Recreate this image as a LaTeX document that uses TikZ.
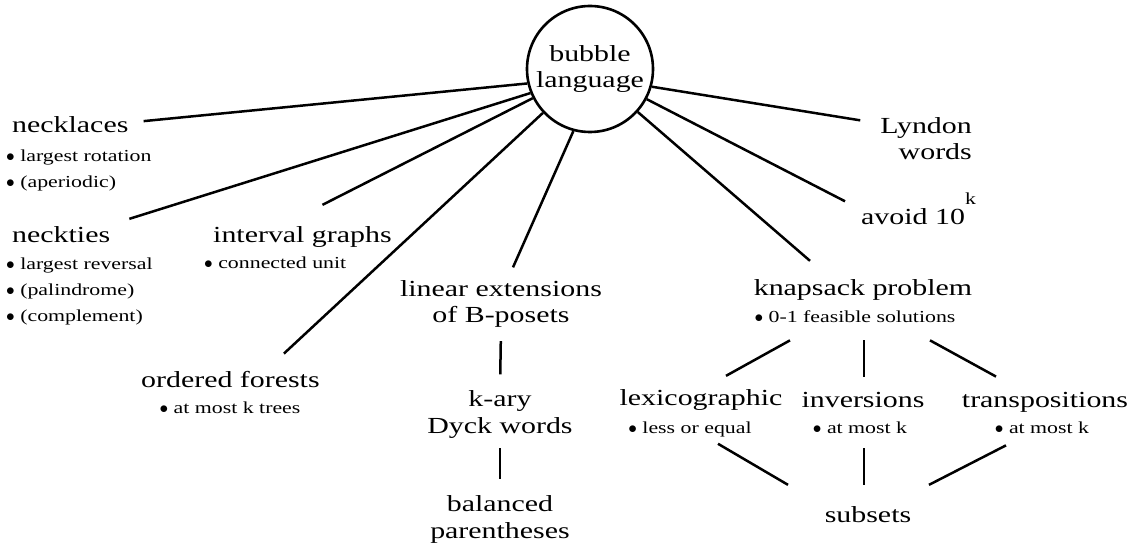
\documentclass[tikz,border=0pt]{standalone}
\usepackage{fontspec}
\setmainfont{Liberation Serif}[FakeStretch=1.3]
\newcommand{\bigtext}{\fontsize{23pt}{26.5pt}\selectfont}
\newcommand{\smalltext}{\fontsize{16.8pt}{26.5pt}\selectfont}
\newcommand{\bul}{$\bullet$\ }
\begin{document}
\begin{tikzpicture}[x=1pt,y=-1pt,
  every node/.style={inner sep=0pt,font=\bigtext},
  info/.style={font=\smalltext},
  link/.style={line width=2.5pt}]
\useasboundingbox (0,0) rectangle (1136,548);
\node[circle,draw,line width=2.6pt,minimum size=126pt,align=center] (bubble) at (590,69) {bubble\\language};

% left side (base = last line)
\node[anchor=base west] (neckl) at (12,133) {necklaces};
\node[info,align=left,anchor=base west] (necklInfo) at (6,188) {\bul largest rotation\\\bul (aperiodic)};
\node[anchor=base west] (neckt) at (12,243) {neckties};
\node[info,align=left,anchor=base west] (necktInfo) at (6,322) {\bul largest reversal\\\bul (palindrome)\\\bul (complement)};
\node[anchor=base west] (interval) at (213,243) {interval graphs};
\node[info,anchor=base west] (intervalInfo) at (204,269) {\bul connected unit};
\node[anchor=base west] (forests) at (141,387) {ordered forests};
\node[info,anchor=base] (forestsInfo) at (230,413) {\bul at most k trees};

% middle chain
\node[align=center,anchor=base] (linext) at (501,323) {linear extensions\\of B-posets};
\node[align=center,anchor=base] (kary) at (500,433) {k-ary\\Dyck words};
\node[align=center,anchor=base] (balanced) at (500,538) {balanced\\parentheses};

% right side
\node[align=right,anchor=base east] (lyndon) at (972,160) {Lyndon\\words};
\node[anchor=base west] (avoid) at (861,225) {avoid 10\raisebox{20pt}{\smalltext k}};
\node[anchor=base] (knap) at (863,296) {knapsack problem};
\node[info,anchor=base] (knapInfo) at (855,323) {\bul 0-1 feasible solutions};
\node[anchor=base] (lex) at (701,405) {lexicographic};
\node[info,anchor=base] (lexInfo) at (690,433) {\bul less or equal};
\node[anchor=base] (inv) at (863,407) {inversions};
\node[info,anchor=base] (invInfo) at (860,433) {\bul at most k};
\node[anchor=base] (trans) at (1045,407) {transpositions};
\node[info,anchor=base] (transInfo) at (1042,433) {\bul at most k};
\node[anchor=base] (subsets) at (868,522) {subsets};

% spokes of the bubble
\draw[link] (bubble.193) -- ([shift={(15,-4)}]neckl.east);
\draw[link] (bubble.202) -- ([shift={(19,-8)}]neckt.north east);
\draw[link] (bubble.207) -- ([shift={(20,-22)}]interval.north);
\draw[link] (bubble.223) -- ([shift={(-36,-17)}]forests.north east);
\draw[link] (bubble.255) -- ([shift={(12,-13)}]linext.north);
\draw[link] (bubble.344) -- ([shift={(-20,3)}]lyndon.north west);
\draw[link] (bubble.332) -- ([shift={(-16,-8)}]avoid.west);
\draw[link] (bubble.318) -- ([shift={(-53,-19)}]knap.north);

% lower links
\draw[link,shorten <=13pt,shorten >=16pt] (linext.south) -- (kary.north);
\draw[link,shorten <=10pt,shorten >=16pt] (kary.south) -- (balanced.north);
\draw[link] ([shift={(-65,17)}]knapInfo.south) -- ([shift={(25,-13)}]lex.north);
\draw[link] ([shift={(9,17)}]knapInfo.south) -- ([shift={(1,-15)}]inv.north);
\draw[link] ([shift={(75,17)}]knapInfo.south) -- ([shift={(-49,-15)}]trans.north);
\draw[link] ([shift={(28,7)}]lexInfo.south) -- ([shift={(-80,-21)}]subsets.north);
\draw[link] ([shift={(4,15)}]invInfo.south) -- ([shift={(-4,-21)}]subsets.north);
\draw[link] ([shift={(-36,12)}]transInfo.south) -- ([shift={(61,-21)}]subsets.north);
\end{tikzpicture}
\end{document}
